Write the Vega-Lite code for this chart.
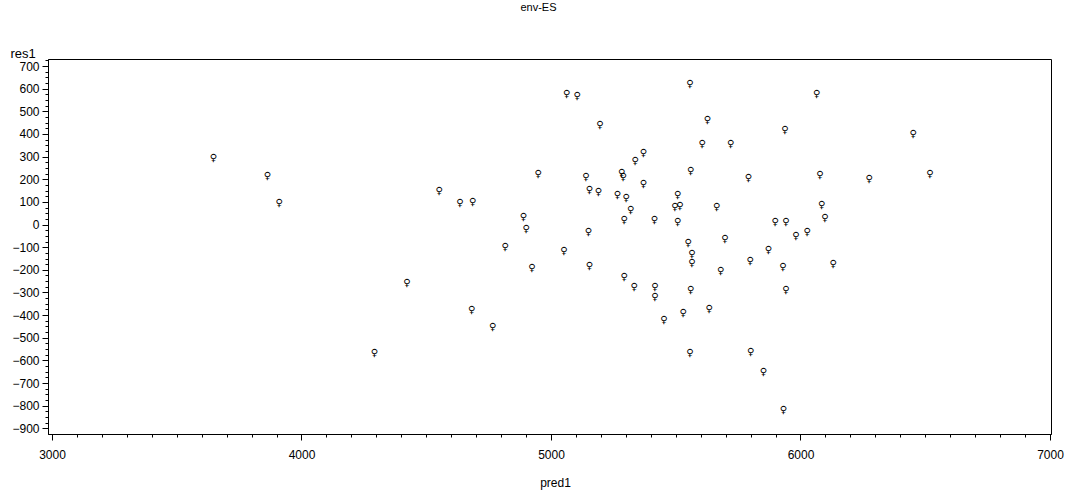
{
  "$schema": "https://vega.github.io/schema/vega-lite/v6.json",
  "width": 1003,
  "height": 375,
  "autosize": {"type": "none"},
  "padding": {"left": 48, "top": 59, "right": 17, "bottom": 57},
  "background": "white",
  "config": {
    "view": {"stroke": "black", "strokeWidth": 1},
    "font": "Liberation Sans"
  },
  "title": {
    "text": "env-ES",
    "fontSize": 11,
    "fontWeight": "normal",
    "font": "Liberation Sans",
    "color": "black",
    "dx": -11,
    "offset": 34
  },
  "data": {
    "values": [
      {"pred1": 3647, "res1": 296},
      {"pred1": 3863, "res1": 215},
      {"pred1": 3910, "res1": 93},
      {"pred1": 4552, "res1": 148},
      {"pred1": 4635, "res1": 95},
      {"pred1": 4686, "res1": 100},
      {"pred1": 4422, "res1": -260},
      {"pred1": 4292, "res1": -566},
      {"pred1": 4682, "res1": -378},
      {"pred1": 4766, "res1": -454},
      {"pred1": 4889, "res1": 34},
      {"pred1": 4900, "res1": -20},
      {"pred1": 4816, "res1": -100},
      {"pred1": 4923, "res1": -194},
      {"pred1": 4949, "res1": 225},
      {"pred1": 5063, "res1": 578},
      {"pred1": 5105, "res1": 568},
      {"pred1": 5196, "res1": 438},
      {"pred1": 5052, "res1": -116},
      {"pred1": 5140, "res1": 210},
      {"pred1": 5154, "res1": 151},
      {"pred1": 5190, "res1": 144},
      {"pred1": 5150, "res1": -33},
      {"pred1": 5154, "res1": -183},
      {"pred1": 5283, "res1": 228},
      {"pred1": 5289, "res1": 210},
      {"pred1": 5266, "res1": 132},
      {"pred1": 5301, "res1": 119},
      {"pred1": 5319, "res1": 66},
      {"pred1": 5337, "res1": 281},
      {"pred1": 5370, "res1": 316},
      {"pred1": 5370, "res1": 181},
      {"pred1": 5293, "res1": 19},
      {"pred1": 5293, "res1": -231},
      {"pred1": 5333, "res1": -275},
      {"pred1": 5416, "res1": -278},
      {"pred1": 5416, "res1": -319},
      {"pred1": 5414, "res1": 19},
      {"pred1": 5453, "res1": -422},
      {"pred1": 5530, "res1": -390},
      {"pred1": 5557, "res1": 622},
      {"pred1": 5627, "res1": 460},
      {"pred1": 5606, "res1": 357},
      {"pred1": 5720, "res1": 357},
      {"pred1": 5560, "res1": 235},
      {"pred1": 5791, "res1": 207},
      {"pred1": 5508, "res1": 129},
      {"pred1": 5497, "res1": 78},
      {"pred1": 5517, "res1": 84},
      {"pred1": 5508, "res1": 10},
      {"pred1": 5664, "res1": 78},
      {"pred1": 5898, "res1": 12},
      {"pred1": 5942, "res1": 12},
      {"pred1": 5982, "res1": -50},
      {"pred1": 5550, "res1": -81},
      {"pred1": 5697, "res1": -62},
      {"pred1": 5871, "res1": -113},
      {"pred1": 5565, "res1": -131},
      {"pred1": 5565, "res1": -172},
      {"pred1": 5798, "res1": -161},
      {"pred1": 5929, "res1": -187},
      {"pred1": 5680, "res1": -205},
      {"pred1": 5560, "res1": -287},
      {"pred1": 5942, "res1": -290},
      {"pred1": 5634, "res1": -371},
      {"pred1": 5557, "res1": -569},
      {"pred1": 5800, "res1": -562},
      {"pred1": 5851, "res1": -650},
      {"pred1": 5931, "res1": -819},
      {"pred1": 6065, "res1": 578},
      {"pred1": 5938, "res1": 419},
      {"pred1": 6452, "res1": 402},
      {"pred1": 6078, "res1": 218},
      {"pred1": 6275, "res1": 203},
      {"pred1": 6519, "res1": 225},
      {"pred1": 6085, "res1": 85},
      {"pred1": 6098, "res1": 27},
      {"pred1": 6027, "res1": -33},
      {"pred1": 6131, "res1": -175}
    ]
  },
  "layer": [
    {
      "mark": {"type": "text", "text": "♀", "font": "DejaVu Sans", "fontSize": 10, "color": "black", "align": "center", "baseline": "middle"},
      "encoding": {
        "x": {
          "field": "pred1", "type": "quantitative",
          "scale": {"domain": [2984, 7004], "nice": false, "zero": false},
          "axis": {
            "orient": "bottom",
            "values": [3000, 4000, 5000, 6000, 7000],
            "grid": false,
            "domainColor": "black",
            "tickColor": "black",
            "tickSize": 6,
            "labelPadding": 9,
            "labelFont": "Liberation Sans",
            "labelFontSize": 12,
            "labelColor": "black",
            "labelFlush": false,
            "format": "d",
            "title": "pred1",
            "titleFont": "Liberation Sans",
            "titleFontSize": 12,
            "titleFontWeight": "normal",
            "titleColor": "black",
            "titleX": 507,
            "titleY": 52,
            "titleAlign": "center",
            "titleBaseline": "alphabetic"
          }
        },
        "y": {
          "field": "res1", "type": "quantitative",
          "scale": {"domain": [-925, 731], "nice": false, "zero": false},
          "axis": {
            "orient": "left",
            "values": [-900, -800, -700, -600, -500, -400, -300, -200, -100, 0, 100, 200, 300, 400, 500, 600, 700],
            "grid": false,
            "domainColor": "black",
            "tickColor": "black",
            "tickSize": 6,
            "labelPadding": 3,
            "labelFont": "Liberation Sans",
            "labelFontSize": 12,
            "labelColor": "black",
            "labelFlush": false,
            "format": "d",
            "title": "res1",
            "titleFont": "Liberation Sans",
            "titleFontSize": 13,
            "titleFontWeight": "normal",
            "titleColor": "black",
            "titleAngle": 0,
            "titleX": -38,
            "titleY": -2,
            "titleAlign": "left",
            "titleBaseline": "alphabetic"
          }
        }
      }
    },
    {
      "mark": {"type": "point", "opacity": 0},
      "encoding": {
        "x": {
          "field": "pred1", "type": "quantitative",
          "axis": {
            "orient": "bottom",
            "values": [3100, 3200, 3300, 3400, 3500, 3600, 3700, 3800, 3900, 4100, 4200, 4300, 4400, 4500, 4600, 4700, 4800, 4900, 5100, 5200, 5300, 5400, 5500, 5600, 5700, 5800, 5900, 6100, 6200, 6300, 6400, 6500, 6600, 6700, 6800, 6900],
            "grid": false,
            "domain": false,
            "labels": false,
            "tickColor": "black",
            "tickSize": 3,
            "title": null
          }
        },
        "y": {
          "field": "res1", "type": "quantitative",
          "axis": {
            "orient": "left",
            "values": [-875, -850, -825, -775, -750, -725, -675, -650, -625, -575, -550, -525, -475, -450, -425, -375, -350, -325, -275, -250, -225, -175, -150, -125, -75, -50, -25, 25, 50, 75, 125, 150, 175, 225, 250, 275, 325, 350, 375, 425, 450, 475, 525, 550, 575, 625, 650, 675, 725],
            "grid": false,
            "domain": false,
            "labels": false,
            "tickColor": "black",
            "tickSize": 3,
            "title": null
          }
        }
      }
    }
  ],
  "resolve": {"axis": {"x": "independent", "y": "independent"}}
}
